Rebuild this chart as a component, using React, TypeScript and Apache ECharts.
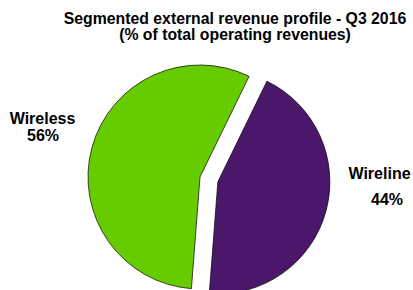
import React, { useEffect, useRef } from "react";
import * as echarts from "echarts";

const categories = ["Wireline", "Wireless"];
const values = [44, 56];
const colors = ["#4a176a", "#66cc00"];
const titleLines = ["Segmented external revenue profile - Q3 2016", "(% of total operating revenues)"];

export default function App() {
  const ref = useRef<HTMLDivElement>(null);
  useEffect(() => {
    const chart = echarts.init(ref.current!, undefined, { renderer: "svg" });
    const font = "'Liberation Sans', Arial, sans-serif";
    // label anchors (centre x, line middles)
    const labelPos: Record<string, { nx: number; ny: number; vx: number; vy: number }> = {
      Wireless: { nx: 42.5, ny: 118.5, vx: 43, vy: 135.5 },
      Wireline: { nx: 379.5, ny: 173, vx: 387, vy: 199 },
    };
    const txt = (text: string, x: number, y: number, size = 16) => ({
      type: "text",
      x,
      y,
      style: {
        text,
        font: `bold ${size}px ${font}`,
        fill: "#000",
        textAlign: "center",
        textVerticalAlign: "middle",
      },
    });
    const labelGraphics: any[] = [];
    categories.forEach((c, i) => {
      const lp = labelPos[c];
      labelGraphics.push(txt(c, lp.nx, lp.ny));
      labelGraphics.push(txt(`${values[i]}%`, lp.vx, lp.vy));
    });
    chart.setOption({
      animation: false,
      backgroundColor: "#ffffff",
      graphic: [
        txt(titleLines[0], 235, 18, 15.8),
        txt(titleLines[1], 235, 34, 15.8),
        ...labelGraphics,
      ],
      series: [
        {
          type: "pie",
          center: [200, 177],
          radius: 112,
          startAngle: 64,
          clockwise: true,
          selectedMode: "single",
          selectedOffset: 18.5,
          itemStyle: { borderColor: "#000", borderWidth: 0.7 },
          emphasis: { disabled: true },
          labelLine: { show: false },
          label: { show: false },
          data: categories.map((c, i) => ({
            name: c,
            value: values[i],
            selected: i === 0,
            itemStyle: { color: colors[i] },
          })),
        },
      ],
    });
    return () => chart.dispose();
  }, []);
  return <div ref={ref} style={{ position: "fixed", left: 0, top: 0, width: 413, height: 290 }} />;
}
